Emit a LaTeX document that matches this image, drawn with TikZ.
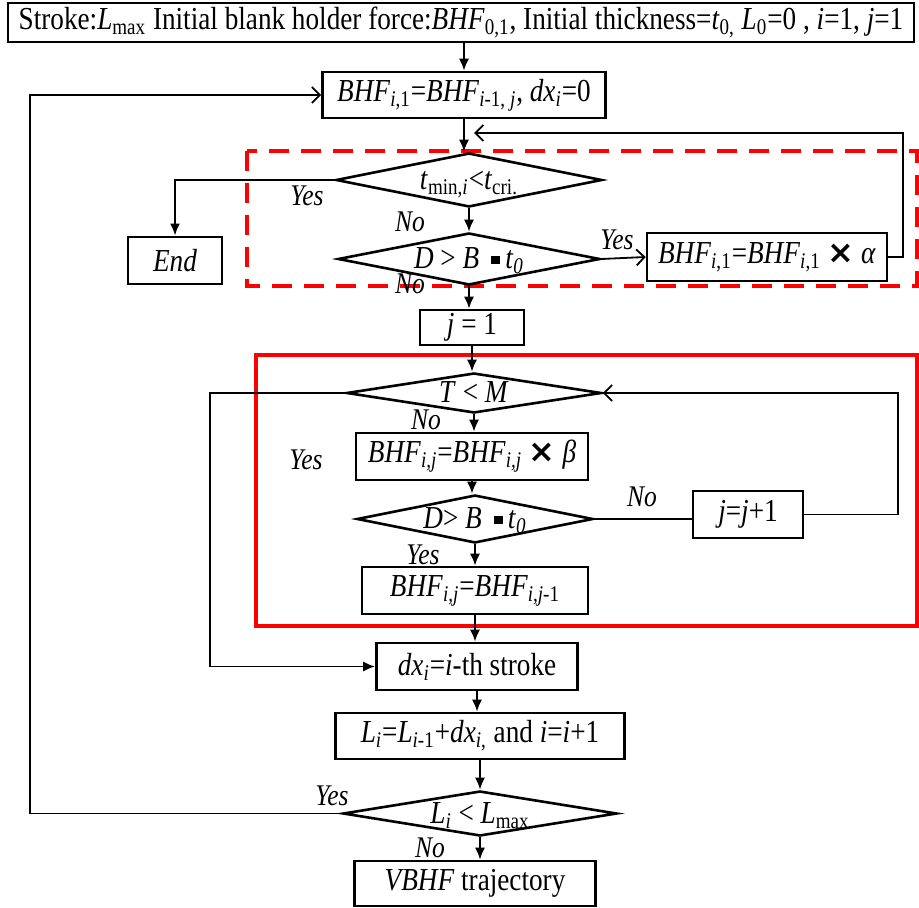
\documentclass[tikz,border=0pt]{standalone}
\usepackage{fontspec}
\setmainfont{Liberation Serif}[FakeStretch=0.85]
\newfontfamily\symfont{DejaVu Sans}
\usetikzlibrary{shapes.geometric,arrows.meta}

\newcommand{\sbs}[1]{\textsubscript{#1}}
\newcommand{\sqdot}{\,\rule[0.3ex]{0.27em}{0.27em}\,}
\newcommand{\tms}{{\symfont\bfseries ×}}
\newcommand{\dtx}[1]{\smash{\makebox[0pt]{\raisebox{-0.3em}{#1}}}}

\tikzset{
  box/.style={draw,line width=1.3pt,inner sep=0pt},
  dia/.style={draw,diamond,line width=1.3pt,inner sep=0pt},
  arr/.style={line width=0.9pt,-{Latex[length=6pt,width=5pt]}},
  opn/.style={line width=0.9pt,-{Straight Barb[length=4pt,width=8pt]}},
  lbl/.style={font=\fontsize{15}{17}\selectfont\itshape,inner sep=0pt},
  every node/.append style={font=\fontsize{16}{19}\selectfont}
}

\begin{document}
\begin{tikzpicture}[x=0.5pt,y=-0.5pt]
  \useasboundingbox (0,0) rectangle (919,908);
  % red frames
  \draw[red,line width=2pt,dash pattern=on 10pt off 6pt] (247,151) rectangle (917,286);
  \draw[red,line width=2pt] (256,355) rectangle (917,626);
  % nodes
  \node[box,minimum width=453pt,minimum height=19.5pt] (top) at (461,22.5)
  {Stroke:\textit{L}\sbs{max} Initial blank holder force:\textit{BHF}\sbs{0,1}, Initial thickness=\textit{t}\sbs{0,} \textit{L}\sbs{0}=0 , \textit{i}=1, \textit{j}=1};
  \node[box,minimum width=141.5pt,minimum height=23pt] (b2) at (464,95)
  {\textit{BHF}\sbs{\textit{i},1}=\textit{BHF}\sbs{\textit{i}-1, \textit{j}}, \textit{dx}\sbs{\textit{i}}=0};
  \node[dia,minimum width=133pt,minimum height=27pt] (d1) at (469,180)
  {\dtx{\textit{t}\sbs{min,\textit{i}}<\textit{t}\sbs{cri.}}};
  \node[box,minimum width=47pt,minimum height=23.5pt] (endb) at (175,260.5) {\textit{End}};
  \node[dia,minimum width=131pt,minimum height=26pt] (d2) at (469,259)
  {\dtx{\textit{D} > \textit{B} \sqdot\textit{t}\sbs{\textit{0}}}};
  \node[box,minimum width=120pt,minimum height=24pt] (ba) at (767,257)
  {\textit{BHF}\sbs{\textit{i},1}=\textit{BHF}\sbs{\textit{i},1} \tms\ \textit{α}};
  \node[box,minimum width=52pt,minimum height=17.5pt] (j1) at (472,327.5) {\textit{j} = 1};
  \node[dia,minimum width=127.5pt,minimum height=20pt] (d3) at (474,393)
  {\dtx{\textit{T} < \textit{M}}};
  \node[box,minimum width=116pt,minimum height=23.5pt] (bb) at (472,456.5)
  {\textit{BHF}\sbs{\textit{i,j}}=\textit{BHF}\sbs{\textit{i,j}} \tms\ \textit{β}};
  \node[dia,minimum width=118pt,minimum height=24pt] (d4) at (475,519)
  {\dtx{\textit{D}> \textit{B} \sqdot\textit{t}\sbs{\textit{0}}}};
  \node[box,minimum width=55pt,minimum height=23.5pt] (jj) at (748,514.5) {\textit{j}=\textit{j}+1};
  \node[box,minimum width=113pt,minimum height=23.5pt] (bc) at (475,590.5)
  {\textit{BHF}\sbs{\textit{i,j}}=\textit{BHF}\sbs{\textit{i,j}-1}};
  \node[box,minimum width=100.5pt,minimum height=23.5pt] (dx) at (477,666.5)
  {\textit{dx}\sbs{\textit{i}}=\textit{i}-th stroke};
  \node[box,minimum width=144.5pt,minimum height=23pt] (bl) at (480,736)
  {\textit{L}\sbs{\textit{i}}=\textit{L}\sbs{\textit{i}-1}+\textit{dx}\sbs{\textit{i},} and \textit{i}=\textit{i}+1};
  \node[dia,minimum width=137pt,minimum height=22.5pt] (d5) at (480,813.5)
  {\dtx{\textit{L}\sbs{\textit{i}} < \textit{L}\sbs{max}}};
  \node[box,minimum width=120.5pt,minimum height=22.5pt] (bv) at (475,883.5)
  {\textit{VBHF} trajectory};
  % turning points
  \coordinate (rtA) at (903,133); \coordinate (fbA) at (474,133);
  \coordinate (lpB) at (210,500); \coordinate (rpB) at (898,450);
  \coordinate (lpC) at (30,450);
  % labels
  \node[lbl] (y1) at (307,196) {Yes}; \node[lbl] (n1) at (410,222) {No};
  \node[lbl] (y2) at (617,240) {Yes}; \node[lbl] (n2) at (410,284) {No};
  \node[lbl] (n3) at (426,420) {No}; \node[lbl] (y3) at (306,460) {Yes};
  \node[lbl] (n4) at (642,497) {No}; \node[lbl] (y4) at (423,555) {Yes};
  \node[lbl] (y5) at (332,796) {Yes}; \node[lbl] (n5) at (430,848) {No};
  % connectors
  \draw[arr] (top.south -| b2.north) -- (b2.north);
  \draw[arr] (b2.south) -- (b2.south |- d1.north);
  \draw[opn] (ba.east) -| (rtA) -- (fbA);
  \draw[arr,line width=1.3pt] (d1.west) -| (endb.north);
  \draw[arr] (d1.south) -- (d2.north);
  \draw[opn] (d2.east) -- (ba.west);
  \draw[arr] (d2.south) -- (d2.south |- j1.north);
  \draw[arr] (j1.south) -- (j1.south |- d3.north);
  \draw[arr] (d3.west) -| (lpB) |- (dx.west);
  \draw[arr] (d3.south) -- (d3.south |- bb.north);
  \draw[arr] (bb.south) -- (bb.south |- d4.north);
  \draw[line width=0.9pt] (d4.east) -- (d4.east -| jj.west);
  \draw[opn] (jj.east) -| (rpB) |- (d3.east);
  \draw[arr] (d4.south) -- (d4.south |- bc.north);
  \draw[arr] (bc.south) -- (bc.south |- dx.north);
  \draw[arr] (dx.south) -- (dx.south |- bl.north);
  \draw[arr] (bl.south) -- (bl.south |- d5.north);
  \draw[opn] (d5.west) -| (lpC) |- (b2.west);
  \draw[arr] (d5.south) -- (d5.south |- bv.north);
\end{tikzpicture}
\end{document}
